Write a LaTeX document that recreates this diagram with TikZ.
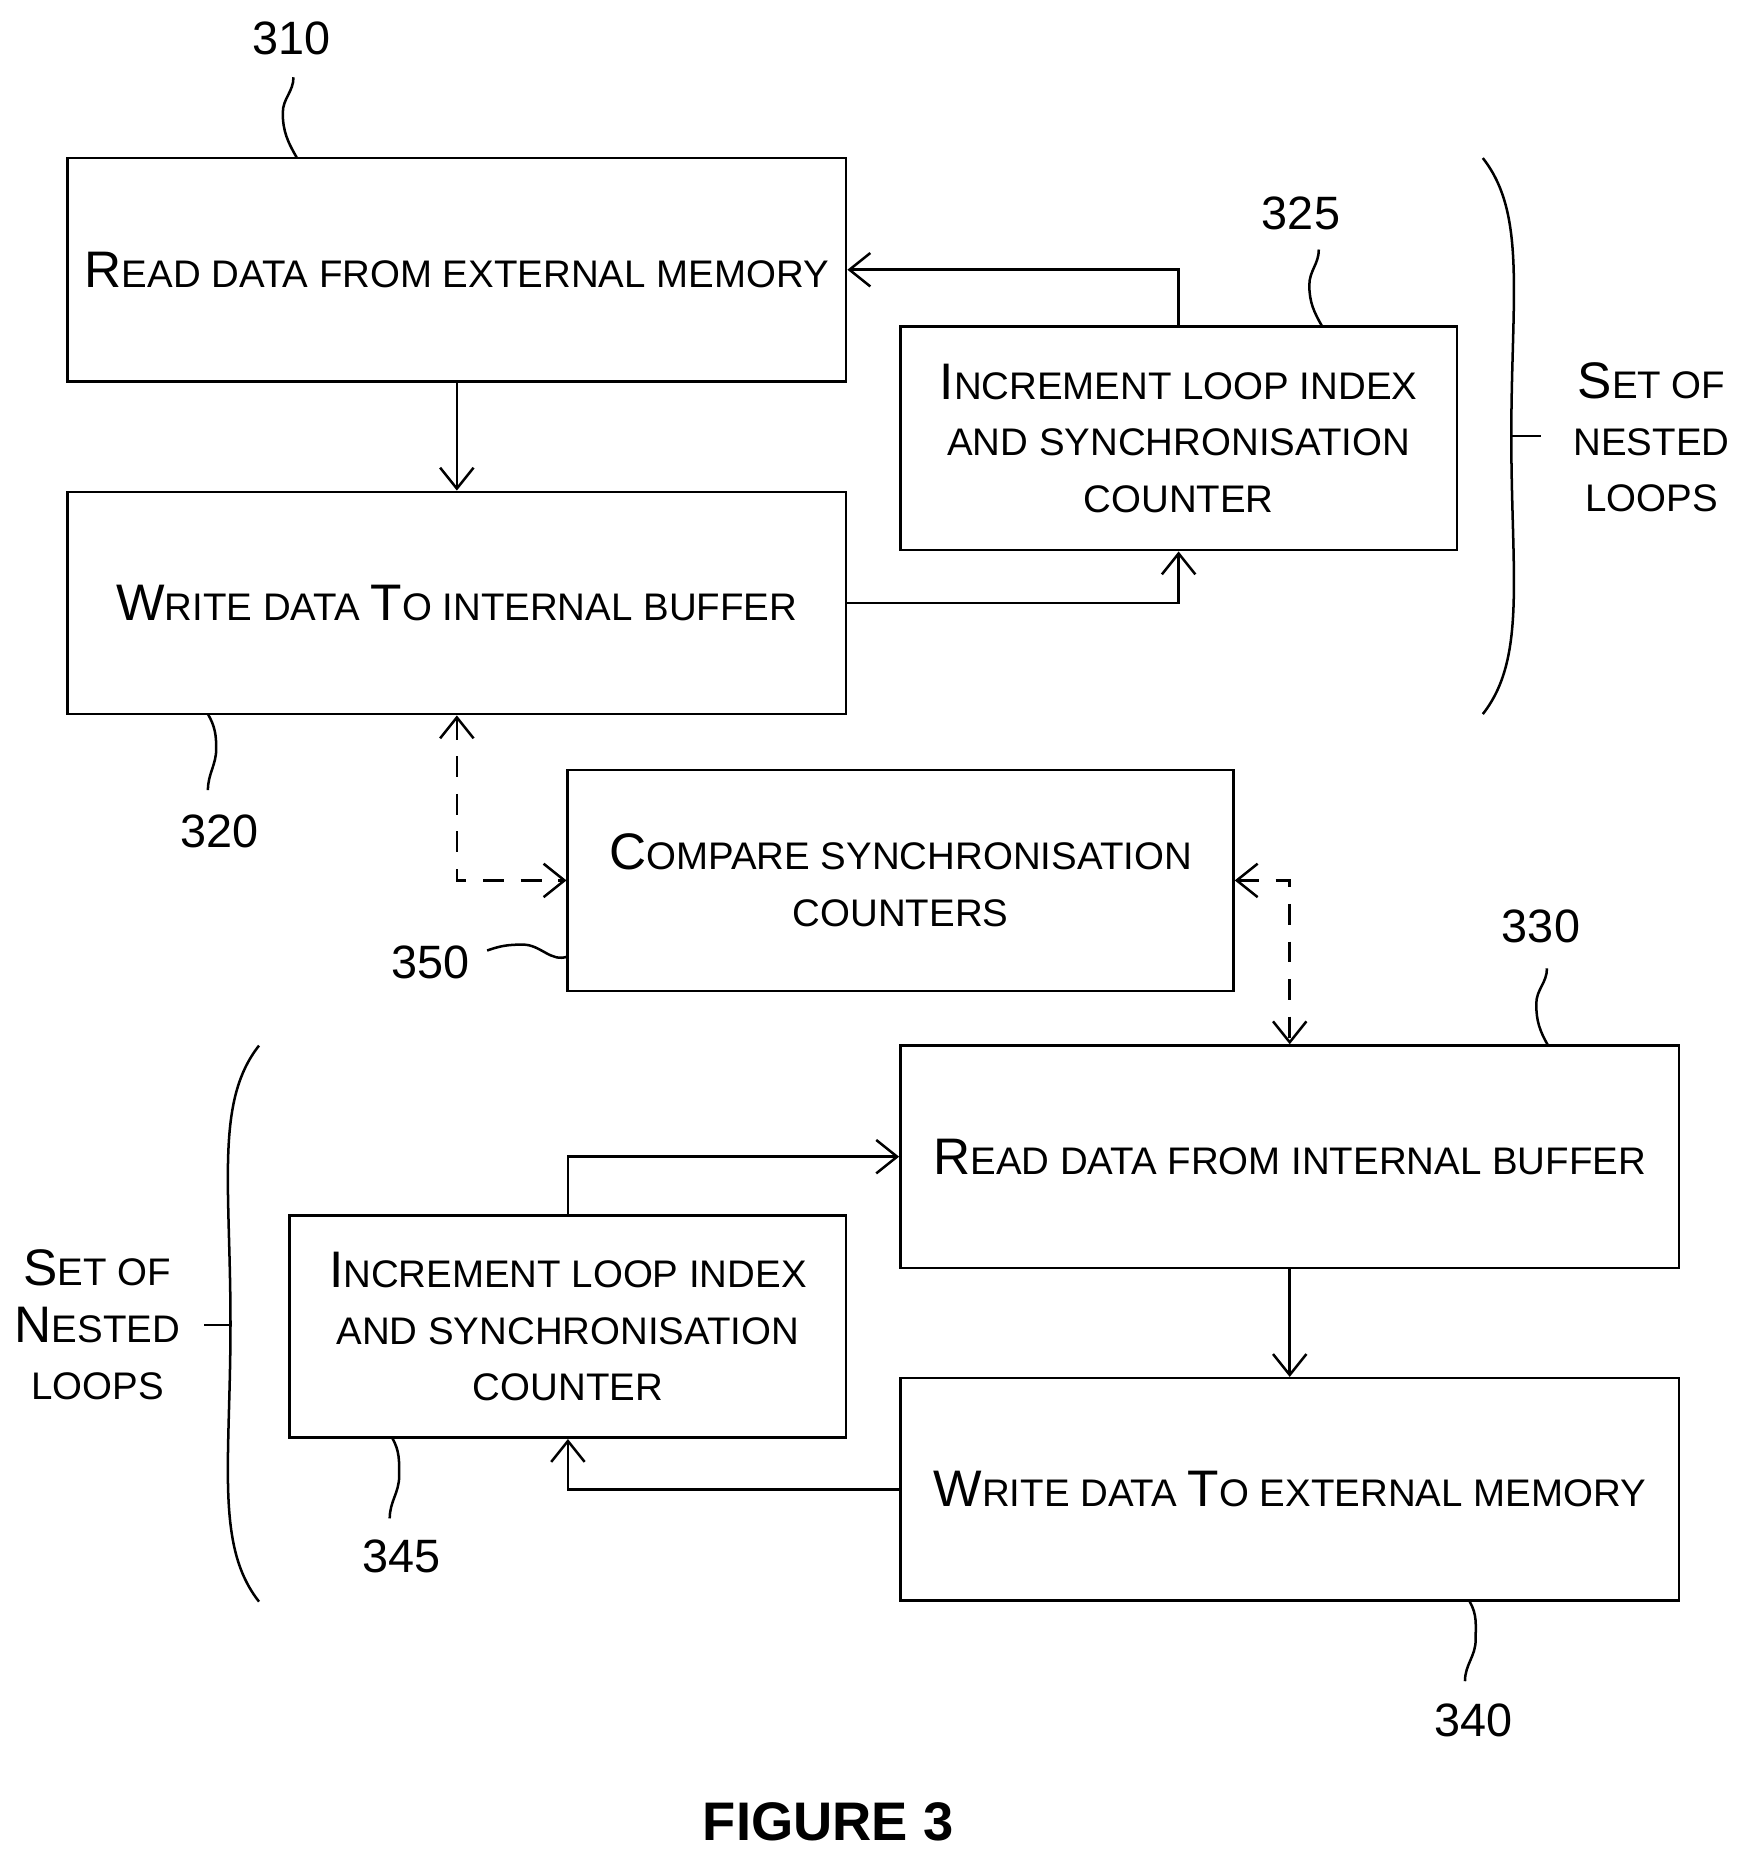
\documentclass[tikz,border=0pt]{standalone}
\usepackage{fontspec}
\setmainfont{Liberation Sans}
\usetikzlibrary{arrows.meta}
\newcommand{\bigc}{\fontsize{12.3}{13.6}\selectfont}
\newcommand{\smc}{\fontsize{9.2}{13.6}\selectfont}
\begin{document}
\begin{tikzpicture}[x=0.01cm,y=-0.01cm,
 box/.style={draw,line width=0.6pt,inner sep=0pt,minimum width=#1,align=center,font=\smc},
 box/.default=6.55cm,
 con/.style={line width=0.6pt,-{Straight Barb[length=5pt,width=8pt]}},
 dcon/.style={line width=0.6pt,dashed,dash pattern=on 5pt off 4pt,{Straight Barb[length=5pt,width=8pt]}-{Straight Barb[length=5pt,width=8pt]}},
 num/.style={font=\fontsize{11.2}{13}\selectfont},
 sq/.style={line width=0.6pt}]
\useasboundingbox (0,0) rectangle (1470,1568);
\node[box,minimum height=1.88cm] (b310) at (384.5,227) {{\bigc R}EAD DATA FROM EXTERNAL MEMORY};
\node[box,minimum height=1.87cm] (b320) at (384.5,507.5) {{\bigc W}RITE DATA {\bigc T}O INTERNAL BUFFER};
\node[box=4.68cm,minimum height=1.88cm] (b325) at (992,369) {{\bigc I}NCREMENT LOOP INDEX\\AND SYNCHRONISATION\\COUNTER};
\node[box=5.6cm,minimum height=1.86cm] (b350) at (758,741) {{\bigc C}OMPARE SYNCHRONISATION\\COUNTERS};
\node[box,minimum height=1.87cm] (b330) at (1085.5,973.5) {{\bigc R}EAD DATA FROM INTERNAL BUFFER};
\node[box,minimum height=1.87cm] (b340) at (1085.5,1253.5) {{\bigc W}RITE DATA {\bigc T}O EXTERNAL MEMORY};
\node[box=4.68cm,minimum height=1.87cm] (b345) at (478,1116.5) {{\bigc I}NCREMENT LOOP INDEX\\AND SYNCHRONISATION\\COUNTER};
\draw[con] (b310.south) -- (b320.north);
\draw[con] (b325.north) |- (b310.east);
\draw[con] (b320.east) -| (b325.south);
\draw[dcon] (b320.south) |- (b350.west);
\draw[dcon] (b350.east) -| (b330.north);
\draw[con] (b330.south) -- (b340.north);
\draw[con] (b340.west) -| (b345.south);
\draw[con] (b345.north) |- (b330.west);
% brackets
\draw[sq] (1248,133) .. controls (1285,180) and (1272,250) .. (1272,367) .. controls (1272,484) and (1285,554) .. (1248,601);
\coordinate (t1) at (1272,367); \coordinate (t2) at (1297,367);
\draw[sq] (t1) -- (t2);
\node[font=\smc,align=center] (s1) at (1390,368) {{\bigc S}ET OF\\NESTED\\LOOPS};
\draw[sq] (218,880) .. controls (181,927) and (194,997) .. (194,1114) .. controls (194,1231) and (181,1301) .. (218,1348);
\coordinate (t3) at (194,1115); \coordinate (t4) at (172,1115);
\draw[sq] (t3) -- (t4);
\node[font=\smc,align=center] (s2) at (82,1115) {{\bigc S}ET OF\\{\bigc N}ESTED\\LOOPS};
% labels
\node[num] (n310) at (245,32) {310};
\draw[sq] (247,65) to[out=-90,in=90] (238,95) to[out=-90,in=120] (250,133);
\node[num] (n325) at (1095,180) {325};
\draw[sq] (1110,210) to[out=-90,in=90] (1102,240) to[out=-90,in=120] (1113,275);
\node[num] (n320) at (185,700) {320};
\draw[sq] (175,601) to[out=-60,in=90] (182,630) to[out=-90,in=90] (175,665);
\node[num] (n350) at (362,810) {350};
\draw[sq] (410,800) to[out=20,in=180] (440,795) to[out=0,in=200] (478,805);
\node[num] (n330) at (1297,780) {330};
\draw[sq] (1302,815) to[out=-90,in=90] (1293,845) to[out=-90,in=120] (1303,880);
\node[num] (n340) at (1240,1448) {340};
\draw[sq] (1237,1348) to[out=-60,in=90] (1242,1380) to[out=-90,in=90] (1233,1415);
\node[num] (n345) at (338,1310) {345};
\draw[sq] (330,1210) to[out=-60,in=90] (336,1242) to[out=-90,in=90] (328,1278);
\node[font=\bfseries\fontsize{13}{15}\selectfont] (fig) at (697,1533) {FIGURE 3};
\end{tikzpicture}
\end{document}
